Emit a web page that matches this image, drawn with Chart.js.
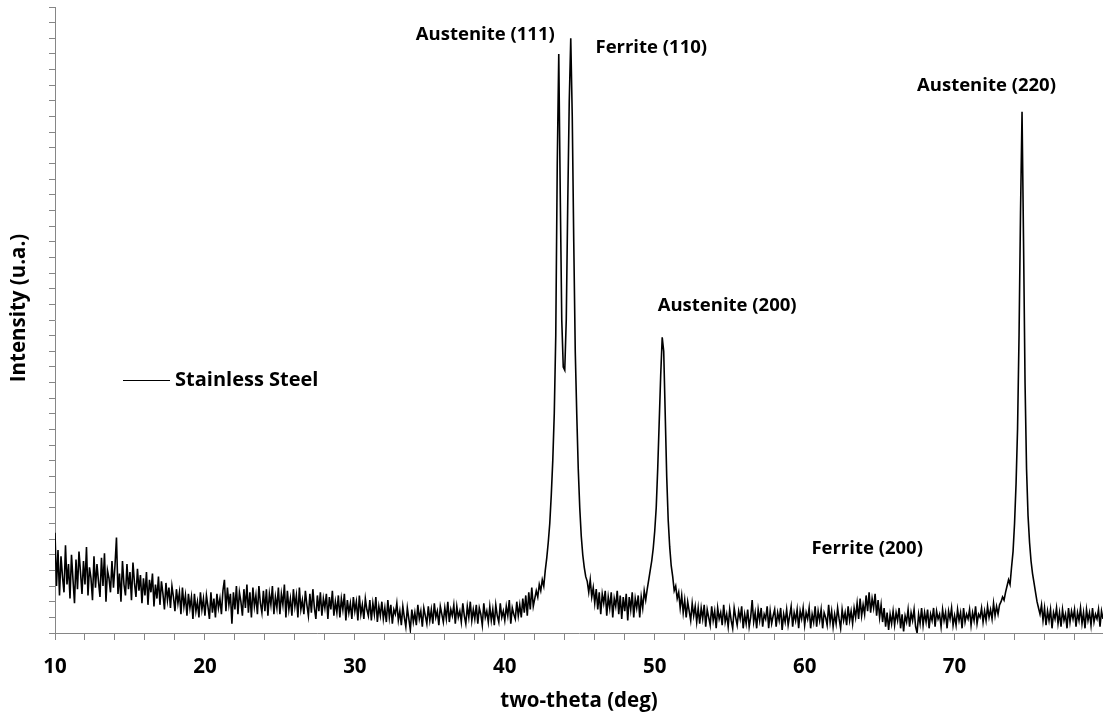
<!DOCTYPE html>
<html lang="en">
<head>
    <meta charset="UTF-8">
    <title>XRD - Stainless Steel</title>
    <script src="https://cdn.jsdelivr.net/npm/chart.js"></script>
    <style>
        html, body {
            margin: 0;
            padding: 0;
            background: #ffffff;
        }
        #wrap {
            width: 1103px;
            height: 715px;
            position: relative;
        }
    </style>
</head>
<body>

<div id="wrap">
    <canvas id="xrdChart"></canvas>
</div>

<script>
    // two-theta sampling of the scan (deg)
    const thetaStart = 10;
    const thetaStep = 0.1;

    // intensity, one line per degree (10.0 .. 79.9), arbitrary units
    const intensity = [
        6.4, 3.0, 5.3, 2.4, 4.9, 3.6, 2.6, 5.6, 3.1, 4.4,
        2.2, 5.0, 3.4, 1.9, 4.7, 2.8, 5.2, 3.9, 2.5, 4.6,
        3.1, 5.5, 2.4, 4.2, 3.5, 2.1, 4.9, 2.9, 4.4, 3.3,
        2.3, 4.8, 3.0, 5.1, 2.0, 4.0, 3.5, 2.6, 4.6, 2.9,
        4.3, 6.1, 2.5, 3.8, 2.0, 4.6, 3.1, 2.4, 4.4, 2.8,
        3.9, 2.1, 4.5, 3.2, 2.3, 4.1, 2.7, 3.7, 1.9, 3.5,
        2.4, 3.9, 1.8, 3.4, 2.6, 3.8, 1.7, 3.1, 2.2, 3.6,
        1.8, 3.3, 2.5, 1.5, 3.2, 2.1, 2.9, 1.6, 3.0, 2.3,
        1.4, 2.8, 1.9, 2.6, 1.2, 2.9, 1.7, 2.4, 1.1, 2.5,
        1.6, 2.3, 0.9, 2.5, 1.4, 2.0, 1.0, 2.6, 1.5, 2.2,
        1.1, 2.4, 1.7, 0.9, 2.6, 1.3, 2.2, 1.0, 2.5, 1.6,
        2.2, 1.2, 2.7, 3.4, 1.4, 2.9, 1.8, 2.5, 0.6, 2.6,
        1.5, 3.0, 1.2, 2.6, 2.0, 1.1, 2.8, 1.6, 3.1, 1.3,
        2.6, 1.0, 2.9, 1.7, 2.4, 1.2, 3.0, 1.9, 1.3, 2.7,
        1.4, 2.8, 1.1, 2.5, 1.8, 3.0, 1.2, 2.3, 1.6, 2.9,
        1.2, 2.5, 1.8, 3.1, 1.0, 2.7, 1.5, 2.2, 1.1, 2.8,
        1.7, 2.4, 1.0, 2.9, 1.5, 2.1, 1.2, 2.7, 1.8, 1.1,
        2.5, 1.3, 2.8, 1.6, 0.9, 2.4, 1.4, 2.6, 1.1, 2.2,
        1.6, 2.5, 0.9, 2.3, 1.5, 2.7, 1.1, 2.0, 1.3, 2.4,
        1.0, 2.2, 1.5, 2.5, 0.8, 2.1, 1.3, 1.9, 0.9, 2.3,
        1.4, 2.0, 0.8, 2.4, 1.2, 1.8, 0.9, 2.2, 1.5, 1.1,
        2.1, 0.8, 1.9, 1.2, 2.3, 0.7, 1.7, 1.1, 2.0, 0.9,
        1.6, 0.7, 2.1, 1.0, 1.8, 0.6, 1.5, 1.2, 1.9, 0.8,
        1.4, 0.5, 1.7, 1.0, 0.4, 1.6, 0.9, 0.2, 1.5, 0.7,
        1.3, 0.5, 1.8, 0.9, 1.4, 0.4, 1.6, 1.1, 0.6, 1.7,
        0.8, 1.5, 0.6, 1.9, 1.0, 1.4, 0.5, 1.7, 1.2, 0.7,
        1.6, 0.9, 2.0, 0.7, 1.5, 1.1, 1.8, 0.6, 1.7, 1.0,
        1.4, 0.7, 1.9, 1.1, 0.6, 1.7, 1.0, 2.0, 0.8, 1.5,
        0.9, 1.8, 0.6, 1.6, 1.2, 0.5, 1.9, 1.0, 1.4, 0.7,
        1.7, 0.8, 1.5, 0.5, 1.8, 1.1, 0.7, 1.9, 1.0, 1.4,
        0.8, 1.7, 1.1, 2.1, 0.6, 1.6, 1.2, 0.9, 2.0, 1.1,
        1.8, 1.0, 2.2, 1.3, 2.4, 1.1, 2.6, 1.5, 2.9, 1.7,
        2.2, 2.7, 2.3, 3.1, 2.7, 3.4, 3.0, 4.0, 4.8, 5.8,
        7.0, 8.8, 11.0, 14.0, 19.0, 30.0, 37.0, 28.0, 20.0, 17.0,
        16.8, 20.0, 27.5, 34.0, 38.0, 33.0, 25.0, 18.0, 14.0, 10.5,
        8.0, 6.2, 5.0, 4.2, 3.6, 3.3, 2.6, 3.4, 2.3, 2.9,
        1.9, 2.8, 1.5, 2.6, 1.2, 2.5, 1.9, 2.7, 1.1, 2.3,
        1.6, 2.6, 1.0, 2.2, 1.7, 2.7, 1.2, 2.4, 0.9, 2.3,
        1.4, 2.5, 0.8, 2.3, 1.5, 2.6, 1.0, 2.2, 1.6, 2.4,
        1.0, 2.3, 1.6, 2.7, 2.1, 2.8, 3.4, 4.0, 4.6, 5.4,
        6.5, 8.0, 10.5, 13.5, 16.5, 18.9, 18.0, 14.0, 10.0, 7.2,
        5.5, 4.3, 3.6, 2.7, 3.0, 2.2, 2.6, 1.6, 2.4, 1.3,
        2.1, 1.0, 2.0, 1.4, 0.8, 1.9, 1.1, 1.7, 0.7, 1.6,
        0.6, 1.6, 0.9, 1.8, 0.4, 1.5, 1.0, 0.5, 1.7, 0.8,
        1.4, 0.3, 1.6, 0.9, 1.3, 0.5, 1.8, 0.7, 1.2, 0.4,
        1.5, 0.8, 0.3, 1.6, 1.0, 0.5, 1.4, 0.9, 1.7, 0.3,
        1.2, 0.6, 1.5, 0.4, 1.0, 2.1, 0.7, 1.3, 0.3, 1.5,
        0.8, 1.6, 0.4, 1.2, 0.9, 1.7, 0.3, 1.4, 0.6, 1.1,
        1.5, 0.4, 1.3, 0.8, 1.6, 0.2, 1.2, 0.7, 1.5, 0.5,
        1.1, 1.7, 0.4, 1.3, 0.8, 1.5, 0.3, 1.4, 0.9, 1.6,
        0.5, 1.3, 0.9, 1.6, 0.3, 1.2, 0.7, 1.7, 0.4, 1.4,
        0.8, 1.5, 0.3, 1.3, 1.0, 0.5, 1.8, 0.7, 1.4, 0.4,
        1.2, 0.6, 1.6, 0.9, 0.3, 1.5, 0.8, 1.3, 0.5, 1.7,
        0.8, 1.4, 0.6, 1.6, 1.0, 1.9, 0.9, 2.2, 1.1, 1.8,
        1.2, 2.4, 1.4, 2.6, 1.3, 2.2, 1.6, 2.5, 1.1, 2.1,
        1.0, 1.8, 0.7, 1.6, 0.4, 1.3, 0.2, 1.2, 0.6, 1.4,
        0.5, 1.3, 0.8, 1.6, 0.3, 1.2, 0.1, 1.1, 0.7, 1.5,
        0.4, 1.3, 0.8, 1.5, 0.4, 0.0, 1.2, 0.6, 1.6, 0.5,
        1.3, 0.7, 1.5, 0.3, 1.2, 0.8, 1.6, 0.4, 1.4, 0.9,
        1.2, 0.4, 1.5, 0.8, 1.3, 0.3, 1.4, 0.9, 1.6, 0.5,
        1.1, 0.5, 1.5, 0.8, 1.3, 0.3, 1.6, 0.7, 1.2, 0.9,
        1.5, 0.5, 1.3, 0.8, 1.7, 0.6, 1.2, 1.0, 1.6, 0.7,
        1.4, 0.8, 1.7, 1.0, 1.5, 0.9, 1.9, 1.1, 1.7, 1.2,
        1.8, 2.0, 2.3, 2.1, 2.6, 3.0, 3.4, 3.1, 4.2, 5.2,
        7.0, 9.5, 13.0, 19.0, 27.0, 33.3, 25.0, 16.0, 10.5, 7.5,
        5.8, 4.6, 3.8, 3.2, 2.6, 2.0, 1.6, 1.2, 1.8, 0.8,
        1.6, 0.5, 1.4, 0.8, 1.5, 0.3, 1.3, 0.9, 1.6, 0.6,
        1.3, 0.4, 1.5, 0.8, 1.2, 0.3, 1.6, 0.7, 1.4, 0.9,
        1.5, 0.4, 1.3, 0.8, 1.6, 0.6, 1.3, 0.3, 1.5, 0.8,
        1.3, 0.5, 1.6, 0.7, 1.2, 0.9, 1.5, 0.4, 1.4, 0.9
    ];

    // labelled x ticks (minor marks every 2 deg come from the scale)
    const xTickLabels = [10, 20, 30, 40, 50, 60, 70];

    // peak annotations (name, two-theta, intensity where the label sits)
    const peakNames = ['Austenite (111)', 'Ferrite (110)', 'Austenite (200)', 'Ferrite (200)', 'Austenite (220)'];
    const peakTheta = [38.7, 49.77, 54.83, 64.17, 72.13];
    const peakLabelLevel = [38.2, 37.4, 20.9, 5.4, 35.0];

    const seriesName = 'Stainless Steel';
    const xTitle = 'two-theta (deg)';
    const yTitle = 'Intensity (u.a.)';

    const FONT = "'Open Sans', 'Noto Sans', sans-serif";
    const AXIS_GREY = '#868686';

    const points = intensity.map((v, i) => ({ x: thetaStart + i * thetaStep, y: v }));

    const peakLabels = {
        id: 'peakLabels',
        afterDatasetsDraw(chart) {
            const { ctx, scales } = chart;
            ctx.save();
            ctx.fillStyle = '#000';
            ctx.font = 'bold 18.5px ' + FONT;
            ctx.textAlign = 'center';
            ctx.textBaseline = 'middle';
            peakNames.forEach((name, i) => {
                ctx.fillText(name, scales.x.getPixelForValue(peakTheta[i]), scales.y.getPixelForValue(peakLabelLevel[i]));
            });
            ctx.restore();
        }
    };

    // axis texts and the in-plot legend, placed by hand like the original sheet
    const extras = {
        id: 'extras',
        afterDraw(chart) {
            const { ctx, chartArea, scales } = chart;
            ctx.save();
            ctx.fillStyle = '#000';
            ctx.textBaseline = 'middle';

            // x tick labels + title
            ctx.font = 'bold 20.5px ' + FONT;
            ctx.textAlign = 'center';
            xTickLabels.forEach(v => {
                ctx.fillText(String(v), scales.x.getPixelForValue(v), chartArea.bottom + 34);
            });
            ctx.fillText(xTitle, (chartArea.left + chartArea.right) / 2, chartArea.bottom + 68);

            // y title
            ctx.save();
            ctx.translate(19, 308);
            ctx.rotate(-Math.PI / 2);
            ctx.fillText(yTitle, 0, 0);
            ctx.restore();

            // legend
            const y = 380;
            const x0 = chartArea.left + 68;
            ctx.strokeStyle = '#000';
            ctx.lineWidth = 1.2;
            ctx.beginPath();
            ctx.moveTo(x0, y + 0.5);
            ctx.lineTo(x0 + 47, y + 0.5);
            ctx.stroke();
            ctx.font = 'bold 20px ' + FONT;
            ctx.textAlign = 'left';
            ctx.fillText(seriesName, x0 + 52, y);
            ctx.restore();
        }
    };

    new Chart(document.getElementById('xrdChart'), {
        type: 'scatter',
        data: {
            datasets: [{
                label: seriesName,
                data: points,
                showLine: true,
                borderColor: '#000',
                borderWidth: 1.6,
                pointRadius: 0,
                tension: 0
            }]
        },
        options: {
            responsive: true,
            maintainAspectRatio: false,
            animation: false,
            layout: { padding: { top: 7, right: 0, bottom: 75, left: 49 } },
            plugins: {
                legend: { display: false },
                tooltip: { enabled: false }
            },
            scales: {
                x: {
                    type: 'linear',
                    min: 10,
                    max: 79.9,
                    border: { color: AXIS_GREY, width: 1 },
                    grid: { drawOnChartArea: false, tickLength: 7, color: AXIS_GREY },
                    ticks: { stepSize: 2, includeBounds: false, autoSkip: false, maxRotation: 0, display: false }
                },
                y: {
                    min: 0,
                    max: 40,
                    border: { color: AXIS_GREY, width: 1 },
                    grid: { drawOnChartArea: false, tickLength: 6, color: AXIS_GREY },
                    ticks: { stepSize: 1, display: false }
                }
            }
        },
        plugins: [peakLabels, extras]
    });
</script>

</body>
</html>
